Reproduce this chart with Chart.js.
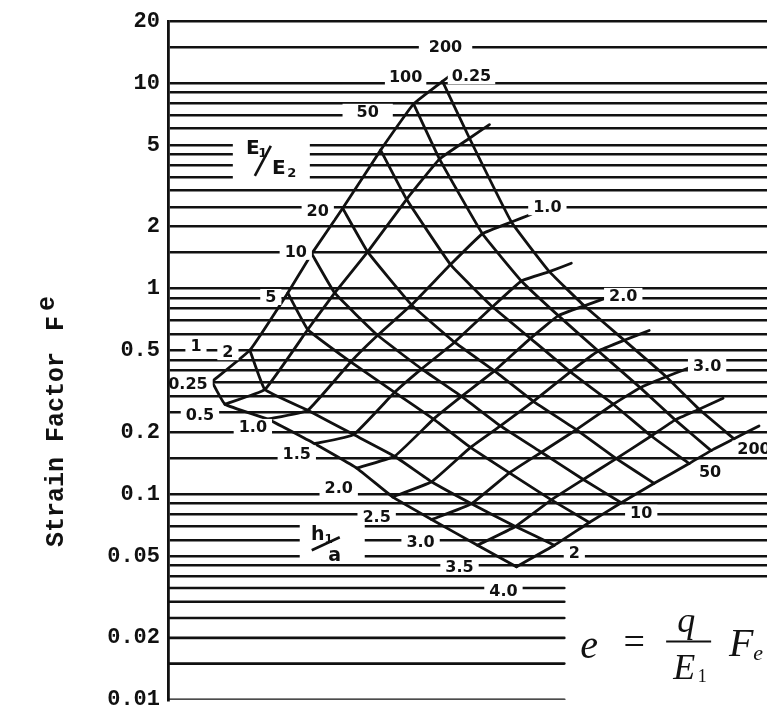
<!DOCTYPE html>
<html>
<head>
<meta charset="utf-8">
<script src="https://cdn.jsdelivr.net/npm/chart.js@4.4.1/dist/chart.umd.min.js"></script>
<style>
  html, body { margin: 0; padding: 0; background: #fff; }
</style>
</head>
<body>
<canvas id="chart" width="767" height="721"></canvas>
<script>
// modular ratio curves (E1/E2) and depth curves (h1/a)
const ratioValues = ['1', '2', '5', '10', '20', '50', '100', '200'];
const depthValues = ['0.25', '0.5', '1.0', '1.5', '2.0', '2.5', '3.0', '3.5', '4.0'];

// nomograph position of each crossing, one row per E1/E2, one column per h1/a
const nodeX = [
  [44, 57, 100, 147, 189, 225, 264, 310, 349],
  [82, 97, 140, 186, 227, 264, 304, 348, 387],
  [120, 140, 183, 227, 266, 303, 342, 384, 422],
  [144, 167, 210, 254, 294, 333, 374, 416, 454],
  [175, 200, 244, 287, 327, 366, 409, 449, 487],
  [213, 239, 283, 325, 363, 403, 446, 484, 522],
  [246, 272, 315, 354, 391, 431, 473, 508, 544],
  [275, 302, 344, 382, 417, 457, 499, 532, 567]
];
// strain factor Fe at each crossing
const nodeFe = [
  [0.353, 0.274, 0.232, 0.176, 0.134, 0.097, 0.0753, 0.0565, 0.0444],
  [0.502, 0.323, 0.256, 0.195, 0.153, 0.115, 0.0899, 0.0697, 0.0565],
  [0.953, 0.633, 0.440, 0.313, 0.232, 0.169, 0.127, 0.0939, 0.0729],
  [1.48, 0.953, 0.593, 0.407, 0.299, 0.215, 0.160, 0.118, 0.0909],
  [2.46, 1.51, 0.834, 0.549, 0.398, 0.283, 0.206, 0.149, 0.113],
  [4.72, 2.72, 1.31, 0.816, 0.573, 0.394, 0.274, 0.192, 0.141],
  [7.92, 4.27, 1.85, 1.09, 0.739, 0.497, 0.330, 0.230, 0.163],
  [10.2, 5.39, 2.11, 1.21, 0.825, 0.561, 0.373, 0.259, 0.186]
];
// h1/a curves run a little past the E1/E2 = 200 curve
const depthTailX = [287, 322, 364, 404, 439, 482, 522, 556, 592];
const depthTailFe = [11.3, 6.28, 2.30, 1.33, 0.902, 0.626, 0.412, 0.293, 0.215];

// horizontal rules
const fullRules = [20, 15, 10, 9, 8, 7, 6, 5, 4.5, 4, 3.5, 3, 2.5, 2, 1.5,
  1, 0.9, 0.8, 0.7, 0.6, 0.5, 0.45, 0.4, 0.35, 0.3, 0.25, 0.2, 0.15,
  0.1, 0.09, 0.08, 0.07, 0.06, 0.05, 0.045, 0.04];
const shortRules = [0.035, 0.03, 0.025, 0.02, 0.015, 0.01];
const tickLabels = [20, 10, 5, 2, 1, 0.5, 0.2, 0.1, 0.05, 0.02, 0.01];

// curve labels
const notes = [
  { t: '1', x: 28, fe: 0.525 },
  { t: '2', x: 60, fe: 0.491 },
  { t: '5', x: 103, fe: 0.911 },
  { t: '10', x: 128, fe: 1.51 },
  { t: '20', x: 150, fe: 2.38 },
  { t: '50', x: 200, fe: 7.25, pad: 14 },
  { t: '100', x: 238, fe: 10.7, pad: 4 },
  { t: '200', x: 278, fe: 15.0, pad: 10 },
  { t: '0.25', x: 304, fe: 10.8, pad: 4 },
  { t: '200', x: 587, fe: 0.167 },
  { t: '50', x: 543, fe: 0.128 },
  { t: '10', x: 474, fe: 0.0813 },
  { t: '2', x: 407, fe: 0.0518 },
  { t: '0.25', x: 20, fe: 0.345 },
  { t: '0.5', x: 32, fe: 0.243 },
  { t: '1.0', x: 85, fe: 0.2125 },
  { t: '1.5', x: 129, fe: 0.158 },
  { t: '2.0', x: 171, fe: 0.107 },
  { t: '2.5', x: 209, fe: 0.0778 },
  { t: '3.0', x: 253, fe: 0.0584 },
  { t: '3.5', x: 292, fe: 0.0444 },
  { t: '4.0', x: 336, fe: 0.0337 },
  { t: '1.0', x: 380, fe: 2.49 },
  { t: '2.0', x: 456, fe: 0.922 },
  { t: '3.0', x: 540, fe: 0.421 }
];
const ratioTag = { x: 102, fe: 4.18 };
const depthTag = { x: 160, fe: 0.0565 };
const formulaTag = { x: 522, fe: 0.0192 };

const INK = '#111';
const shortEnd = 397;

function rule(points, w) {
  return {
    data: points, showLine: true, pointRadius: 0,
    borderColor: INK, borderWidth: w, tension: 0.1,
    borderCapStyle: 'round', borderJoinStyle: 'round'
  };
}

const datasets = [];
shortRules.forEach(v => datasets.push(rule([{ x: 0, y: v }, { x: shortEnd, y: v }], 2.6)));

// E1/E2 curves
ratioValues.forEach((r, i) => {
  datasets.push(rule(nodeX[i].map((xv, j) => ({ x: xv, y: nodeFe[i][j] })), 2.8));
});
// h1/a curves
depthValues.forEach((h, j) => {
  const pts = ratioValues.map((r, i) => ({ x: nodeX[i][j], y: nodeFe[i][j] }));
  pts.push({ x: depthTailX[j], y: depthTailFe[j] });
  datasets.push(rule(pts, 2.8));
});

const labelPlugin = {
  id: 'nomoLabels',
  afterDatasetsDraw(chart) {
    const { ctx, scales: { x, y }, chartArea } = chart;
    ctx.save();
    ctx.textAlign = 'center';
    ctx.textBaseline = 'middle';
    ctx.font = 'bold 16px "DejaVu Sans"';
    notes.forEach(n => {
      const px = x.getPixelForValue(n.x), py = y.getPixelForValue(n.fe);
      const w = ctx.measureText(n.t).width;
      const pad = n.pad ?? 5;
      const left = Math.max(px - w / 2 - pad, chartArea.left + 2);
      ctx.fillStyle = '#fff';
      ctx.fillRect(left, py - 8, px + w / 2 + pad - left, 16);
      ctx.fillStyle = INK;
      ctx.fillText(n.t, px, py + 1);
    });

    // E1/E2 tag
    let cx = x.getPixelForValue(ratioTag.x), cy = y.getPixelForValue(ratioTag.fe);
    ctx.fillStyle = '#fff';
    ctx.fillRect(cx - 37, cy - 25, 77, 47);
    ctx.fillStyle = INK;
    ctx.font = 'bold 20px "DejaVu Sans"';
    ctx.fillText('E', cx - 17, cy - 12);
    ctx.fillText('E', cx + 9, cy + 8);
    ctx.font = 'bold 13px "DejaVu Sans"';
    ctx.fillText('1', cx - 7, cy - 7);
    ctx.fillText('2', cx + 22, cy + 13);
    ctx.strokeStyle = INK;
    ctx.lineWidth = 2.6;
    ctx.beginPath();
    ctx.moveTo(cx - 15, cy + 15);
    ctx.lineTo(cx + 1, cy - 15);
    ctx.stroke();

    // h1/a tag
    cx = x.getPixelForValue(depthTag.x); cy = y.getPixelForValue(depthTag.fe);
    ctx.fillStyle = '#fff';
    ctx.fillRect(cx - 28, cy - 26, 65, 43);
    ctx.fillStyle = INK;
    ctx.font = 'bold 19px "DejaVu Sans"';
    ctx.fillText('h', cx - 10, cy - 10);
    ctx.fillText('a', cx + 7, cy + 11);
    ctx.font = 'bold 12px "DejaVu Sans"';
    ctx.fillText('1', cx + 1, cy - 5);
    ctx.beginPath();
    ctx.moveTo(cx - 16, cy + 5);
    ctx.lineTo(cx + 12, cy - 8);
    ctx.stroke();

    // formula
    cx = x.getPixelForValue(formulaTag.x); cy = y.getPixelForValue(formulaTag.fe);
    ctx.textBaseline = 'alphabetic';
    ctx.font = 'italic 40px "Liberation Serif"';
    ctx.fillText('e', cx - 100, cy + 16);
    ctx.fillText('F', cx + 52, cy + 14);
    ctx.font = 'italic 36px "Liberation Serif"';
    ctx.fillText('q', cx - 3, cy - 10);
    ctx.fillText('E', cx - 5, cy + 37);
    ctx.font = 'italic 22px "Liberation Serif"';
    ctx.fillText('e', cx + 69, cy + 18);
    ctx.font = '18px "Liberation Serif"';
    ctx.fillText('1', cx + 13, cy + 40);
    ctx.font = '38px "Liberation Serif"';
    ctx.fillText('=', cx - 55, cy + 12);
    ctx.lineWidth = 2;
    ctx.beginPath();
    ctx.moveTo(cx - 23, cy);
    ctx.lineTo(cx + 22, cy);
    ctx.stroke();

    // axis title
    ctx.translate(57, 547);
    ctx.rotate(-Math.PI / 2);
    ctx.textAlign = 'left';
    ctx.textBaseline = 'middle';
    ctx.font = 'bold 25px "Liberation Mono"';
    ctx.fillText('Strain Factor', 0, 0);
    const tw = ctx.measureText('Strain Factor ').width;
    ctx.fillText('F', tw + 6, 0);
    ctx.fillText('e', tw + 26, -9);
    ctx.restore();
  }
};

new Chart(document.getElementById('chart'), {
  type: 'scatter',
  data: { datasets: datasets },
  options: {
    responsive: false,
    animation: false,
    devicePixelRatio: 1,
    events: [],
    layout: { padding: { top: 16, bottom: 16, left: 0, right: 0 } },
    plugins: { legend: { display: false }, tooltip: { enabled: false } },
    scales: {
      x: { type: 'linear', display: false, min: 0, max: 600 },
      y: {
        type: 'logarithmic',
        min: 0.01,
        max: 20,
        afterFit: s => { s.width = 168; },
        afterBuildTicks: s => { s.ticks = fullRules.concat(shortRules).map(v => ({ value: v })); },
        border: { display: true, color: INK, width: 2.8 },
        grid: {
          drawTicks: false,
          lineWidth: 2.6,
          color: c => (c.tick && c.tick.value < 0.038) ? 'rgba(0,0,0,0)' : INK
        },
        ticks: {
          autoSkip: false,
          padding: 8,
          color: INK,
          font: { family: 'Liberation Mono', size: 22, weight: 'bold' },
          callback: v => tickLabels.includes(v) ? String(v) : ''
        }
      }
    }
  },
  plugins: [labelPlugin]
});
</script>
</body>
</html>
